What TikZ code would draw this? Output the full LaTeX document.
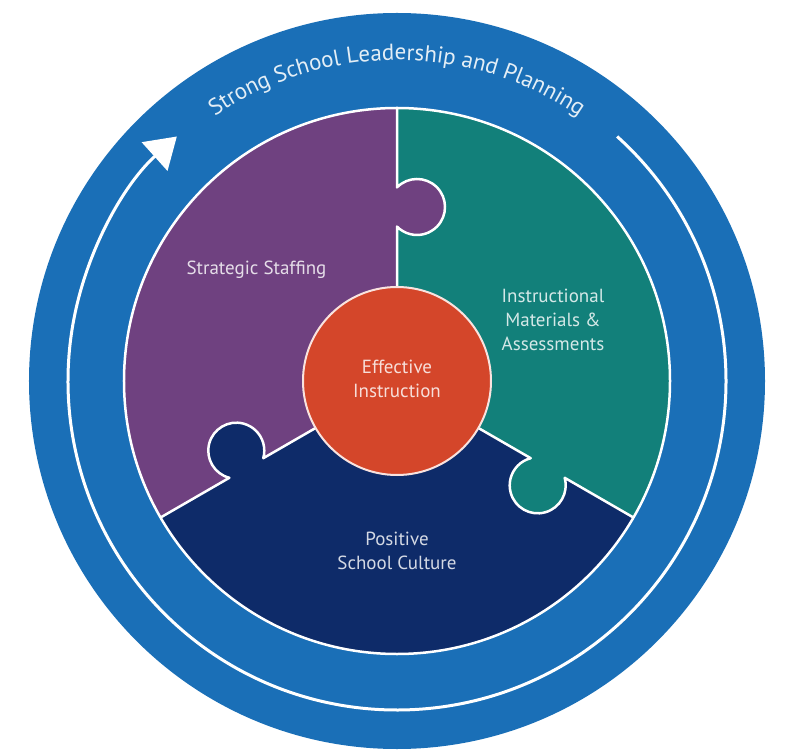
\documentclass[tikz,border=0pt]{standalone}
\usepackage{fontspec}
\setmainfont{PT Sans}
\usetikzlibrary{arrows.meta,decorations.text}

\definecolor{ringblue}{RGB}{26,111,183}
\definecolor{plum}{RGB}{111,65,128}
\definecolor{pieteal}{RGB}{18,128,122}
\definecolor{pienavy}{RGB}{14,43,105}
\definecolor{piered}{RGB}{212,70,42}

\begin{document}
\begin{tikzpicture}[x=1pt,y=1pt,
        piecetext/.style={font=\fontsize{19}{24}\selectfont, align=center, text=white!82!#1},
        seam/.style={white, line width=2.5pt, line join=round}]
    \useasboundingbox (-397,-373) rectangle (413,381);

    % outer band
    \fill[ringblue] (0,0) circle (368pt);

    % the three puzzle pieces
    \fill[pienavy] (0,0) circle (273pt);
    \fill[plum] (0,0) -- (90:273pt) arc[start angle=90, end angle=210, radius=273pt] -- cycle;
    \fill[pieteal] (0,0) -- (-30:273pt) arc[start angle=-30, end angle=90, radius=273pt] -- cycle;
    \foreach \a/\c in {90/plum, 210/pienavy, -30/pieteal}
        \fill[\c, rotate=\a] (174pt,-20pt) circle (28pt);

    % seams between pieces
    \foreach \a in {90,210,-30}
        \draw[seam, rotate=\a] (273pt,0) -- (193.6pt,0)
            arc[start angle=45.6, end angle=-225.6, radius=28pt] -- (94pt,0);
    \draw[white, line width=2.5pt] (0,0) circle (273pt);

    % centre
    \fill[piered] (0,0) circle (94pt);
    \draw[white!85!piered, line width=2pt] (0,0) circle (94pt);

    % cycle arrow
    \draw[white, line width=3pt, -{Triangle[width=38pt,length=30pt]}]
        (48:329pt) arc[start angle=48, end angle=-228, radius=329pt];

    \path[decorate, decoration={text along path, text align=center,
        text={|\fontsize{23}{23}\selectfont\color{white!88!ringblue}|Strong School Leadership and Planning}}]
        (140:321pt) arc[start angle=140, end angle=40, radius=321pt];

    \node[piecetext=piered] (instruction) at (0,2) {Effective\\Instruction};
    \node[piecetext=pieteal] (materials) at (156,61) {Instructional\\Materials \&\\Assessments};
    \node[piecetext=pienavy] (culture) at (0,-170) {Positive\\School Culture};
    \node[piecetext=plum, anchor=west] (staffing) at (-214,111) {Strategic Staffing};
\end{tikzpicture}
\end{document}
